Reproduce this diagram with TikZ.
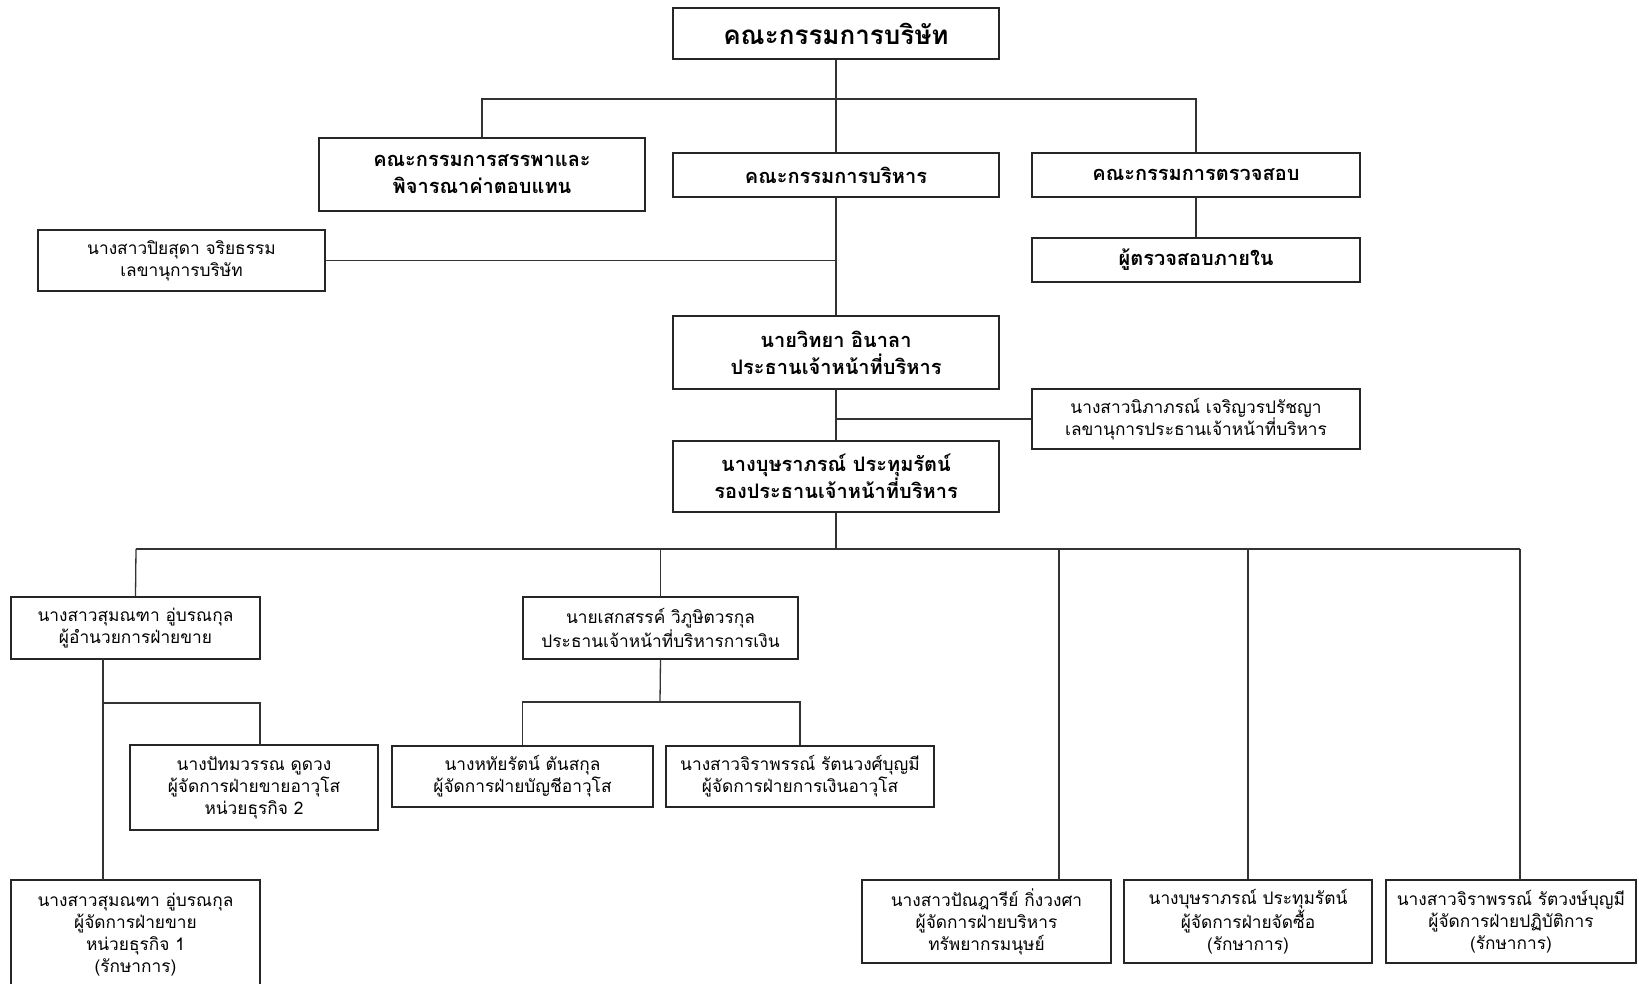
\documentclass[tikz,border=0pt]{standalone}
\usepackage{fontspec}
\setmainfont[Script=Thai]{Loma}
\begin{document}
\begin{tikzpicture}[x=1pt,y=-1pt,
  box/.style={draw=black!85, line width=1.2pt, fill=white, inner sep=2pt, align=center},
  big/.style={box, font=\fontsize{20}{27}\selectfont\bfseries},
  small/.style={box, font=\fontsize{17.3}{22}\selectfont},
  conn/.style={draw=black!80, line width=1.3pt}]
\useasboundingbox (0,0) rectangle (1639,984);
% level 0-3
\node[box, font=\fontsize{26}{28}\selectfont\bfseries, minimum width=326pt, minimum height=51pt] (board) at (836,33.5) {คณะกรรมการบริษัท};
\node[big, minimum width=326pt, minimum height=73pt] (nom) at (482,174.5) {คณะกรรมการสรรพาและ\\พิจารณาค่าตอบแทน};
\node[big, minimum width=326pt, minimum height=44pt] (exec) at (836,175) {คณะกรรมการบริหาร};
\node[big, minimum width=328pt, minimum height=44pt] (aud) at (1196,175) {คณะกรรมการตรวจสอบ};
\node[big, minimum width=328pt, minimum height=44pt] (ia) at (1196,260) {ผู้ตรวจสอบภายใน};
\node[small, minimum width=287pt, minimum height=61pt] (sec) at (181.5,260.5) {นางสาวปิยสุดา จริยธรรม\\เลขานุการบริษัท};
\node[big, minimum width=326pt, minimum height=73pt] (ceo) at (836,352.5) {นายวิทยา อินาลา\\ประธานเจ้าหน้าที่บริหาร};
\node[small, minimum width=328pt, minimum height=60pt] (ceosec) at (1196,419) {นางสาวนิภาภรณ์ เจริญวรปรัชญา\\เลขานุการประธานเจ้าหน้าที่บริหาร};
\node[big, minimum width=326pt, minimum height=71pt] (dep) at (836,476.5) {นางบุษราภรณ์ ประทุมรัตน์\\รองประธานเจ้าหน้าที่บริหาร};
% level 4
\node[small, minimum width=249pt, minimum height=62pt] (sales) at (135.5,628) {นางสาวสุมณฑา อู่บรณกุล\\ผู้อำนวยการฝ่ายขาย};
\node[small, minimum width=275pt, minimum height=62pt] (cfo) at (660.5,628) {นายเสกสรรค์ วิภูษิตวรกุล\\ประธานเจ้าหน้าที่บริหารการเงิน};
\node[small, minimum width=248pt, minimum height=85pt] (pat) at (254,787.5) {นางปัทมวรรณ ดูดวง\\ผู้จัดการฝ่ายขายอาวุโส\\หน่วยธุรกิจ 2};
\node[small, minimum width=261pt, minimum height=61pt] (acc) at (522.5,776.5) {นางหทัยรัตน์ ตันสกุล\\ผู้จัดการฝ่ายบัญชีอาวุโส};
\node[small, minimum width=268pt, minimum height=61pt] (fin) at (800,776.5) {นางสาวจิราพรรณ์ รัตนวงศ์บุญมี\\ผู้จัดการฝ่ายการเงินอาวุโส};
\node[small, minimum width=249pt, minimum height=110pt] (salesb) at (135.5,935) {นางสาวสุมณฑา อู่บรณกุล\\ผู้จัดการฝ่ายขาย\\หน่วยธุรกิจ 1\\(รักษาการ)};
\node[small, minimum width=249pt, minimum height=83pt] (hr) at (986.5,921.5) {นางสาวปัณฎารีย์ กิ่งวงศา\\ผู้จัดการฝ่ายบริหาร\\ทรัพยากรมนุษย์};
\node[small, minimum width=248pt, minimum height=83pt] (pur) at (1248,921.5) {นางบุษราภรณ์ ประทุมรัตน์\\ผู้จัดการฝ่ายจัดซื้อ\\(รักษาการ)};
\node[small, minimum width=250pt, minimum height=83pt] (ops) at (1511,921.5) {นางสาวจิราพรรณ์ รัตวงษ์บุญมี\\ผู้จัดการฝ่ายปฏิบัติการ\\(รักษาการ)};
% coordinates
\coordinate (bus1) at (836,99);
\coordinate (bus2) at (836,549);
\coordinate (busL) at (136,549);
\coordinate (busR) at (1520,549);
\coordinate (hrbus) at (1059,549);
\coordinate (hrtop) at (1059,880);
\coordinate (opstop) at (1520,880);
\coordinate (sL) at (103,659);
\coordinate (sJ) at (103,703);
\coordinate (sB) at (103,880);
\coordinate (patJ) at (260,703);
\coordinate (pattop) at (260,745);
\coordinate (cJ) at (660,702);
% connectors
\draw[conn] (board.south) -- (bus1);
\draw[conn] (nom.north) |- (bus1);
\draw[conn] (bus1) -| (aud.north);
\draw[conn] (bus1) -- (exec.north);
\draw[conn] (aud.south) -- (ia.north);
\draw[conn] (exec.south) -- (ceo.north);
\draw[conn] (sec.east) -- (sec.east -| ceo.north);
\draw[conn] (ceo.south) -- (dep.north);
\draw[conn] (ceosec.west) -- (ceosec.west -| ceo.south);
\draw[conn] (dep.south) -- (bus2);
\draw[conn] (busL) -- (busR);
\draw[conn] (busL) -- (sales.north);
\draw[conn] (cfo.north |- bus2) -- (cfo.north);
\draw[conn] (hrbus) -- (hrtop);
\draw[conn] (pur.north |- bus2) -- (pur.north);
\draw[conn] (busR) -- (opstop);
\draw[conn] (sL) -- (sB);
\draw[conn] (sJ) -- (patJ) -- (pattop);
\draw[conn] (cfo.south) -- (cJ);
\draw[conn] (acc.north) |- (cJ) -| (fin.north);
\end{tikzpicture}
\end{document}
